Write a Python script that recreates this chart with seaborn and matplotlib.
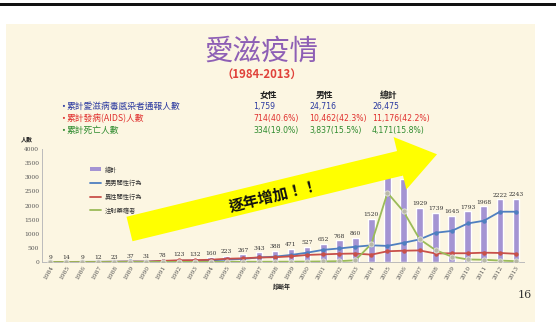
import numpy as np
import pandas as pd
import matplotlib
matplotlib.use("Agg")
import matplotlib.pyplot as plt
from matplotlib.patches import Polygon, Rectangle, Patch
from matplotlib.lines import Line2D
import seaborn as sns

years = [str(y) for y in range(1984, 2014)]
total = [9, 14, 9, 12, 23, 37, 31, 78, 123, 132, 160, 223, 267, 343, 388,
         471, 527, 652, 768, 860, 1520, 3400, 2941, 1929, 1739, 1645, 1793,
         1968, 2222, 2243]
msm = [0, 2, 5, 8, 12, 18, 15, 30, 45, 50, 60, 85, 110, 160, 190,
       250, 330, 430, 480, 540, 590, 570, 680, 800, 1035, 1100, 1365,
       1460, 1780, 1780]
hetero = [1, 3, 3, 3, 8, 15, 12, 40, 60, 65, 80, 115, 130, 160, 170,
          200, 250, 270, 290, 300, 260, 380, 400, 410, 300, 310, 310,
          330, 320, 290]
idu = [0, 0, 0, 0, 0, 1, 1, 2, 3, 3, 4, 5, 8, 10, 10,
       12, 15, 20, 30, 60, 640, 2450, 1790, 810, 420, 190, 90,
       80, 50, 30]
series_names = ["總計", "男男間性行為", "異性間性行為", "注射藥癮者"]
header = ["女性", "男性", "總計"]
row_labels = ["累計愛滋病毒感染者通報人數", "累計發病(AIDS)人數", "累計死亡人數"]
row_values = [["1,759", "24,716", "26,475"],
              ["714(40.6%)", "10,462(42.3%)", "11,176(42.2%)"],
              ["334(19.0%)", "3,837(15.5%)", "4,171(15.8%)"]]

df = pd.DataFrame({"year": years, "total": total, "msm": msm,
                   "hetero": hetero, "idu": idu})

sns.set_theme(style="white")
CJK = ["Noto Sans CJK TC", "DejaVu Sans"]
plt.rcParams["font.family"] = CJK

W, H = 556, 326
fig = plt.figure(figsize=(W / 100, H / 100), dpi=100)
fig.patch.set_facecolor("white")

def fx(x):
    return x / W

def fy(y):
    return 1 - y / H

# slide background
fig.add_artist(Rectangle((fx(6), fy(322)), fx(535) - fx(6), fy(24) - fy(322),
                         transform=fig.transFigure, facecolor="#fcf6e2",
                         edgecolor="none", zorder=-5))
# top black rule
fig.add_artist(Rectangle((0, fy(5.5)), 1, 2.5 / H, transform=fig.transFigure,
                         facecolor="#111111", edgecolor="none", zorder=-4))

ax = fig.add_axes([fx(42), fy(262), fx(524) - fx(42), (262 - 149) / H])
ax.set_facecolor("none")

bar_color = "#a494d3"
sns.barplot(data=df, x="year", y="total", color=bar_color, width=0.42,
            saturation=1, ax=ax, zorder=2)
sns.pointplot(data=df, x="year", y="msm", color="#4f7fc0", markers="o",
              markersize=2.2, linewidth=1.3, ax=ax, zorder=3)
sns.pointplot(data=df, x="year", y="hetero", color="#c8504a", markers="o",
              markersize=2.2, linewidth=1.3, ax=ax, zorder=3)
sns.pointplot(data=df, x="year", y="idu", color="#9bbb59", markers="o",
              markersize=0, linewidth=1.3, ax=ax, zorder=3)
ax.scatter(range(len(years)), idu, s=14, color="#b8b8a8", edgecolor="#e8e8e0",
           linewidth=0.6, zorder=4)

for i, v in enumerate(total):
    ax.text(i, v + 60, str(v), ha="center", va="bottom", fontsize=4.3,
            color="#333333", family="DejaVu Serif", zorder=5)

ax.set_ylim(0, 4000)
ax.set_xlim(-0.5, len(years) - 0.5)
ax.set_yticks(np.arange(0, 4001, 500))
ax.tick_params(axis="y", labelsize=4.2, colors="#555555", length=0, pad=2)
ax.tick_params(axis="x", labelsize=4.2, colors="#555555", length=0, pad=2)
for lab in ax.get_yticklabels():
    lab.set_family("DejaVu Serif")
ax.set_xticks(range(len(years)))
ax.set_xticklabels(years, rotation=60, ha="right", va="top",
                   rotation_mode="anchor", family="DejaVu Serif")
ax.set_xlabel("")
ax.set_ylabel("")
sns.despine(ax=ax)
for s in ["left", "bottom"]:
    ax.spines[s].set_color("#bbbbbb")
    ax.spines[s].set_linewidth(0.7)
ax.grid(False)

# legend
handles = [Patch(facecolor=bar_color, edgecolor="none"),
           Line2D([], [], color="#4f7fc0", lw=1.3),
           Line2D([], [], color="#c8504a", lw=1.3),
           Line2D([], [], color="#9bbb59", lw=1.3)]
leg = fig.legend(handles, series_names, loc="upper left",
                 bbox_to_anchor=(fx(84), fy(160)), frameon=False,
                 fontsize=4.5, handlelength=1.8, handleheight=0.6,
                 labelspacing=0.9, handletextpad=0.6)
for t in leg.get_texts():
    t.set_color("#333333")

fig.text(fx(27), fy(139), "人數", fontsize=4.3, fontweight="bold",
         ha="center", va="center", color="#222222")
fig.text(fx(282), fy(287), "診斷年", fontsize=4.3, fontweight="bold",
         ha="center", va="center", color="#222222")

# big arrow
B = np.array([400.0, 163.3])
T = np.array([129.5, 229.0])
n = np.array([0.2361, 0.9717])
tip = np.array([437.0, 154.3])
pts = [T - 12.6 * n, B - 12.6 * n, B - 27 * n, tip, B + 27 * n,
       B + 12.6 * n, T + 12.6 * n]
fig.add_artist(Polygon([(fx(p[0]), fy(p[1])) for p in pts], closed=True,
                       transform=fig.transFigure, facecolor="#ffff00",
                       edgecolor="none", zorder=6))
fig.text(fx(274), fy(196), "逐年增加！！", fontsize=11, fontweight="bold",
         rotation=13.7, ha="center", va="center", color="#111111",
         zorder=7, style="italic")

# titles
fig.text(fx(261), fy(52), "愛滋疫情", fontsize=20.5, color="#8e5fb5",
         ha="center", va="center", fontweight="light")
fig.text(fx(262), fy(74.5), "（1984-2013）", fontsize=8.2, color="#e0413a",
         ha="center", va="center", fontweight="bold")

hx = [268, 324, 389]
for x, h in zip(hx, header):
    fig.text(fx(x), fy(95.5), h, fontsize=6.3, ha="center", va="center",
             color="#222222", fontweight="bold")

row_colors = ["#2c3aa0", "#e0302e", "#2e8b2e"]
row_y = [106.7, 118.7, 130.7]
vx = [253, 309, 372]
for y, lab, vals, c in zip(row_y, row_labels, row_values, row_colors):
    fig.text(fx(63), fy(y), "•", fontsize=7, ha="center", va="center",
             color=c)
    fig.text(fx(67), fy(y), lab, fontsize=6.3, ha="left", va="center",
             color=c)
    for x, v in zip(vx, vals):
        fig.text(fx(x), fy(y), v, fontsize=5.6, ha="left", va="center",
                 color=c, family="DejaVu Sans")

fig.text(fx(525), fy(295), "16", fontsize=8, ha="center", va="center",
         color="#333333", family="DejaVu Serif")

fig.savefig("out.png", dpi=100, facecolor=fig.get_facecolor())
